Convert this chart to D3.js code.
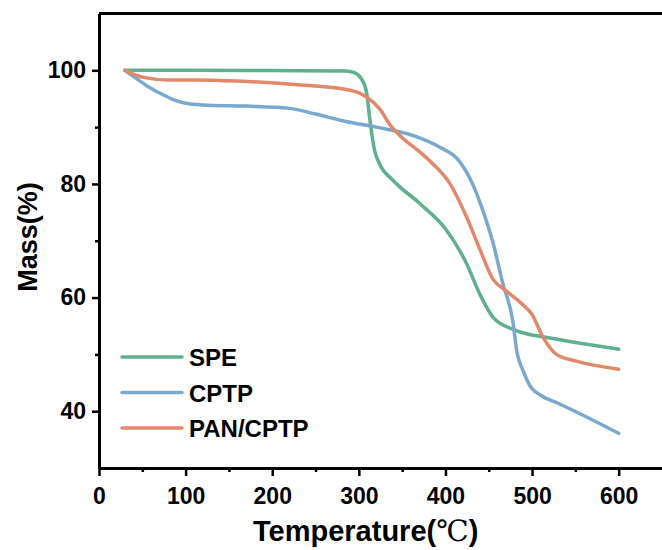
<!DOCTYPE html>
<html>
<head>
<meta charset="utf-8">
<script src="https://cdn.jsdelivr.net/npm/d3@7"></script>
<style>
  body { margin: 0; background: #fff; }
  svg { display: block; font-family: Arial, "Liberation Sans", sans-serif; font-weight: bold; }
</style>
</head>
<body>
<svg id="chart" width="662" height="550"></svg>
<script>
// TGA data
const speTemp = [30, 100, 200, 285, 295, 303, 309, 313, 318, 324, 339, 370, 401, 424, 440, 455, 478, 497, 512, 550, 600];
const speMass = [100, 100, 99.95, 99.9, 99.6, 98.5, 96, 91, 86, 83.5, 80.7, 76.6, 71.9, 66.1, 60.5, 56.5, 54.4, 53.5, 53.1, 52.1, 50.9];

const cptpTemp = [30, 40, 55, 70, 85, 100, 120, 170, 220, 250, 285, 320, 363, 393, 415, 431, 443, 455, 466, 478, 482, 490, 497, 510, 530, 560, 600];
const cptpMass = [100, 98.9, 97.3, 96, 94.9, 94.2, 93.9, 93.7, 93.3, 92.3, 91.0, 90.0, 88.5, 86.5, 84.2, 80.1, 75.4, 69.6, 62.6, 55.6, 50.9, 47, 44.6, 42.8, 41.4, 39.2, 36.1];

const panTemp = [30, 50, 80, 111, 160, 226, 290, 309, 324, 336, 351, 370, 385, 405, 424, 440, 455, 470, 489, 500, 512, 528, 551, 600];
const panMass = [100, 98.8, 98.3, 98.3, 98.1, 97.5, 96.5, 95.3, 93.2, 90.4, 88, 85.7, 83.6, 80.1, 74.3, 68.4, 63.2, 61.2, 58.8, 57, 53.2, 50, 48.8, 47.4];

const seriesNames = ["SPE", "CPTP", "PAN/CPTP"];
const seriesColors = ["#5fb08e", "#7aa8cf", "#e3896b"];
const xTicks = [0, 100, 200, 300, 400, 500, 600];
const yTicks = [40, 60, 80, 100];

const series = [
  { name: seriesNames[0], color: seriesColors[0], pts: speTemp.map((t, i) => [t, speMass[i]]) },
  { name: seriesNames[1], color: seriesColors[1], pts: cptpTemp.map((t, i) => [t, cptpMass[i]]) },
  { name: seriesNames[2], color: seriesColors[2], pts: panTemp.map((t, i) => [t, panMass[i]]) }
];

const svg = d3.select("#chart");

const x = d3.scaleLinear().domain([0, 650]).range([99, 662]);
const y = d3.scaleLinear().domain([30, 110]).range([468, 13.5]);

// curves
const line = d3.line()
  .x(d => x(d[0]))
  .y(d => y(d[1]))
  .curve(d3.curveMonotoneX);

svg.selectAll("path.curve")
  .data(series)
  .enter()
  .append("path")
  .attr("class", "curve")
  .attr("d", d => line(d.pts))
  .attr("fill", "none")
  .attr("stroke", d => d.color)
  .attr("stroke-width", 3.5)
  .attr("stroke-linecap", "round")
  .attr("stroke-linejoin", "round");

// frame (top and right) - right edge sits just outside the picture
svg.append("path")
  .attr("d", `M${x(0)},${y(110)}H${x(650) + 4}V${y(30)}`)
  .attr("fill", "none")
  .attr("stroke", "#000")
  .attr("stroke-width", 3);

// minor ticks
svg.append("g")
  .attr("transform", `translate(0,${y(30)})`)
  .call(d3.axisBottom(x).tickValues([50, 150, 250, 350, 450, 550]).tickSize(4).tickFormat(""))
  .call(g => g.select(".domain").remove());
svg.append("g")
  .attr("transform", `translate(${x(0)},0)`)
  .call(d3.axisLeft(y).tickValues([50, 70, 90]).tickSize(4).tickFormat(""))
  .call(g => g.select(".domain").remove());

// main axes
const xAxis = svg.append("g")
  .attr("transform", `translate(0,${y(30)})`)
  .call(d3.axisBottom(x).tickValues(xTicks).tickSize(8).tickPadding(6).tickSizeOuter(0));
const yAxis = svg.append("g")
  .attr("transform", `translate(${x(0)},0)`)
  .call(d3.axisLeft(y).tickValues(yTicks).tickSize(7).tickPadding(6).tickSizeOuter(0));

svg.selectAll(".tick line").attr("stroke", "#000").attr("stroke-width", 2.5);
svg.selectAll(".domain").attr("stroke", "#000").attr("stroke-width", 3);
svg.selectAll(".tick text")
  .attr("fill", "#000")
  .style("font-size", "23px")
  .style("font-family", "Arial, 'Liberation Sans', sans-serif")
  .style("font-weight", "bold");
xAxis.selectAll(".tick text").attr("dy", "0.95em");

// axis titles
svg.append("text")
  .attr("transform", "translate(37,237) rotate(-90)")
  .attr("text-anchor", "middle")
  .style("font-size", "27px")
  .text("Mass(%)");

const xt = svg.append("text")
  .attr("x", 253)
  .attr("y", 541)
  .style("font-size", "29px")
  .text("Temperature(");
xt.append("tspan").style("font-family", "'DejaVu Serif', serif").style("font-weight", "normal").text("℃");
xt.append("tspan").text(")");

// legend
const legend = svg.selectAll("g.legend")
  .data(series)
  .enter()
  .append("g")
  .attr("class", "legend")
  .attr("transform", (d, i) => `translate(122,${357 + i * 35.5})`);

legend.append("line")
  .attr("x1", 0).attr("x2", 60)
  .attr("stroke", d => d.color)
  .attr("stroke-width", 3.5)
  .attr("stroke-linecap", "round");

legend.append("text")
  .attr("x", 67)
  .attr("y", 9)
  .style("font-size", "24px")
  .text(d => d.name);
</script>
</body>
</html>
